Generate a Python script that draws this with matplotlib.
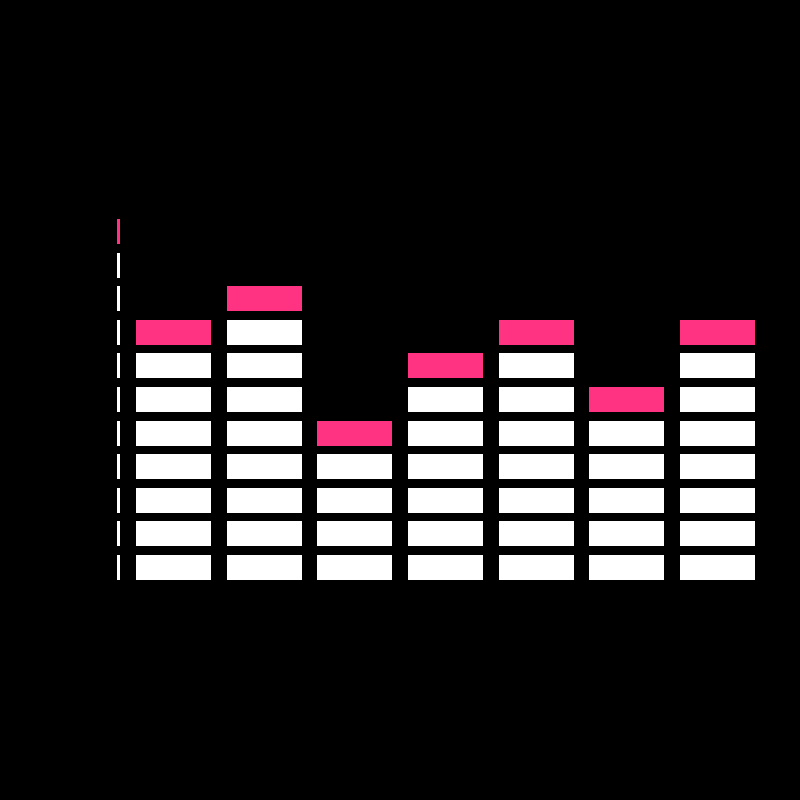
import numpy as np
import matplotlib
matplotlib.use("Agg")
from matplotlib import pyplot as plt

# values per column (number of stacked blocks, top one highlighted)
categories = ["A", "B", "C", "D", "E", "F", "G"]
values = [8, 9, 5, 7, 8, 6, 8]
axis_max = 11

white = "#ffffff"
pink = "#ff3382"
seg_frac = 0.744   # filled part of each unit, rest is the gap

fig = plt.figure(figsize=(8, 8), dpi=100, facecolor="black")
ax = fig.add_axes([0.1432, 0.275, 0.8047, 0.462])
ax.set_facecolor("black")

x = np.arange(len(categories))
for xi, v in zip(x, values):
    bottoms = np.arange(v)
    colors = [white] * (v - 1) + [pink]
    ax.bar(np.full(v, xi), seg_frac, width=0.827, bottom=bottoms,
           color=colors, edgecolor="none")

# dashed axis on the left
ax_x = -0.607
bottoms = np.arange(axis_max)
colors = [white] * (axis_max - 1) + [pink]
ax.bar(np.full(axis_max, ax_x), seg_frac, width=0.033, bottom=bottoms,
       color=colors, edgecolor="none")

ax.set_xlim(-0.65, 6.45)
ax.set_ylim(0, axis_max)
ax.set_xticks([])
ax.set_yticks([])
for s in ax.spines.values():
    s.set_visible(False)

fig.savefig("out.png", dpi=100, facecolor="black")
